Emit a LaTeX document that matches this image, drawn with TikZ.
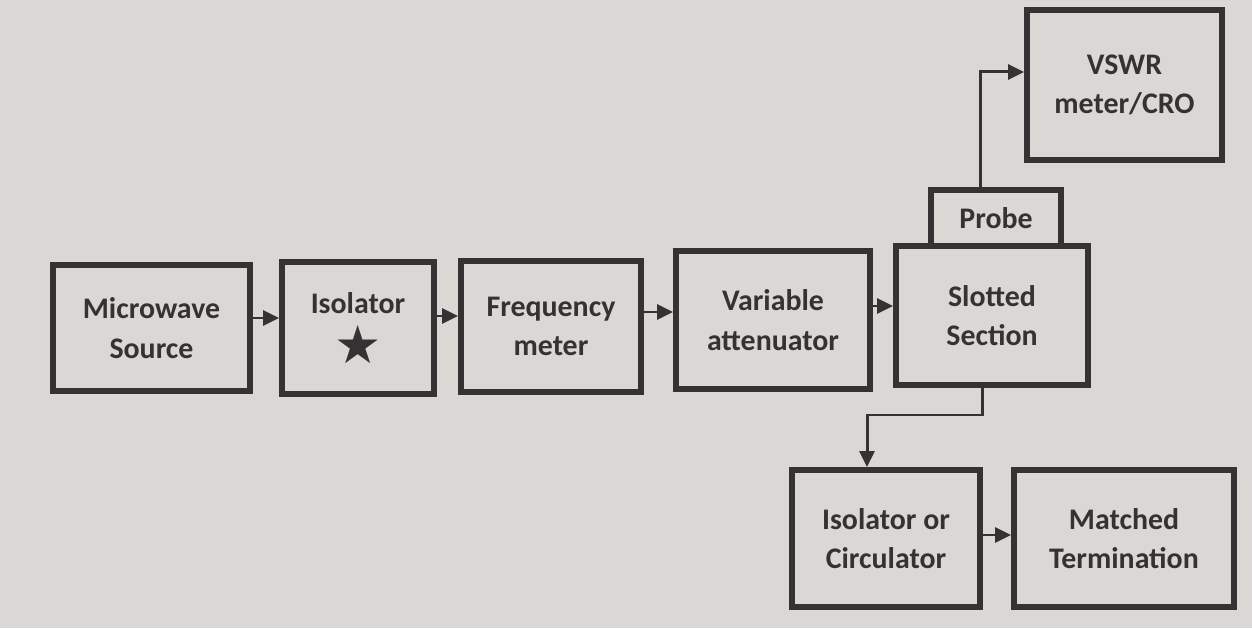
\documentclass[tikz,border=0pt]{standalone}
\usepackage{fontspec}
\setmainfont{Carlito}
\newfontfamily\symfont{DejaVu Sans}
\usetikzlibrary{arrows.meta}
\definecolor{paper}{RGB}{218,216,212}
\definecolor{ink}{RGB}{52,50,50}

\begin{document}
\begin{tikzpicture}[block/.style={draw=ink, line width=3.4pt, fill=paper, align=center, text=ink, inner sep=0pt, font=\bfseries\fontsize{17}{22.5}\selectfont},
	link/.style={draw=ink, line width=1.7pt, -{Triangle[length=0.32cm,width=0.3cm]}}]
		\fill[paper] (0,0) rectangle (25.04,12.56);
		% main chain
		\node[block, minimum width=3.94cm, minimum height=2.52cm] (micro) at (3.03,6.00) {Microwave \\ Source};
		\node[block, minimum width=3.04cm, minimum height=2.64cm] (iso) at (7.16,6.00) {Isolator \\[6pt] {\symfont\fontsize{30}{26}\selectfont ★}};
		\node[block, minimum width=3.60cm, minimum height=2.62cm] (freq) at (11.02,6.03) {Frequency \\ meter};
		\node[block, minimum width=3.88cm, minimum height=2.76cm] (atten) at (15.46,6.16) {Variable \\ attenuator};
		\node[block, minimum width=3.84cm, minimum height=2.78cm] (slot) at (19.84,6.25) {Slotted \\ Section};
		\node[block, minimum width=2.60cm, minimum height=1.12cm] (probe) at (19.92,8.20) {Probe};
		\node[block, minimum width=3.90cm, minimum height=3.00cm] (vswr) at (22.49,10.86) {VSWR \\ meter/CRO};
		% load side
		\node[block, minimum width=3.76cm, minimum height=2.74cm] (circ) at (17.72,1.79) {Isolator or \\ Circulator};
		\node[block, minimum width=4.40cm, minimum height=2.74cm] (load) at (22.48,1.79) {Matched \\ Termination};
		% connectors
		\draw[link] (micro.east |- 0,6.20) -- (iso.west |- 0,6.20);
		\draw[link] (iso.east |- 0,6.24) -- (freq.west |- 0,6.24);
		\draw[link] (freq.east |- 0,6.32) -- (atten.west |- 0,6.32);
		\draw[link] (atten.east |- 0,6.44) -- (slot.west |- 0,6.44);
		\draw[link] (probe.north -| 19.60,0) |- (vswr.west |- 0,11.12);
		\draw[link] (slot.south -| 19.64,0) -- (19.64,4.26) -| (circ.north -| 17.34,0);
		\draw[link] (circ.east |- 0,1.86) -- (load.west |- 0,1.86);
	\end{tikzpicture}
\end{document}
